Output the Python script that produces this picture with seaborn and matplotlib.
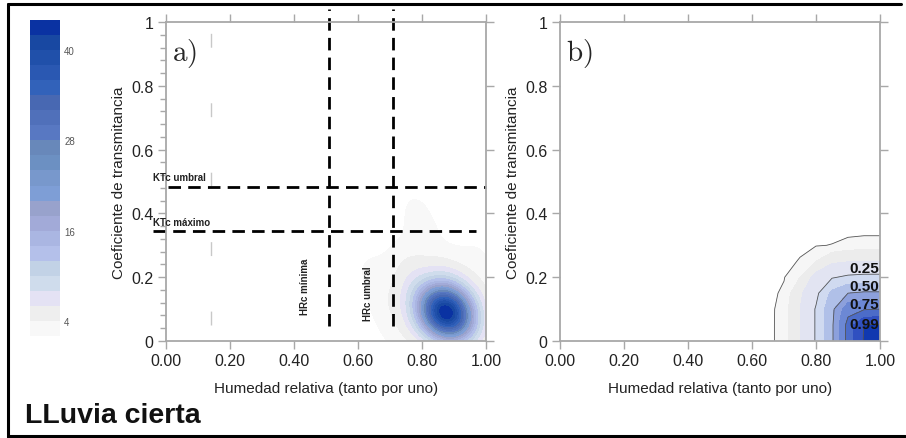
import numpy as np
import matplotlib
matplotlib.use("Agg")
import matplotlib.pyplot as plt
from matplotlib.colors import ListedColormap, BoundaryNorm
from matplotlib.lines import Line2D
import seaborn as sns

# colour bands of the density scale (bottom -> top)
band_colors = ["#f8f8f8", "#eeeeee", "#e4e2f4", "#cfdcec", "#c2d2e6", "#b4c0ea",
               "#aab6e2", "#a2aad8", "#98a2cc", "#7e9ed6", "#7898cc", "#6c90c2",
               "#6888ba", "#5878c2", "#5070ba", "#4868b2", "#3262ba", "#2a58b2",
               "#2050aa", "#1848a2", "#0a32a2"]
density_bounds = [2, 4, 6, 8, 10, 12, 14, 16, 18, 20, 22, 24, 26, 28, 30, 32,
                  34, 36, 38, 40, 42, 44]
density_ticks = [4, 16, 28, 40]

hr_obs = [0.875, 0.925, 0.825, 0.875, 0.875, 0.91, 0.84, 0.84, 0.91,
          0.78, 0.96, 0.79, 0.95, 0.875,
          0.77, 0.70, 0.65, 0.80, 0.78, 0.97, 0.72]
kt_obs = [0.09, 0.09, 0.09, 0.135, 0.045, 0.125, 0.055, 0.125, 0.055,
          0.15, 0.15, 0.035, 0.035, 0.21,
          0.23, 0.12, 0.22, 0.34, 0.43, 0.26, 0.03]
obs_weight = [10, 5, 5, 5, 5, 3, 3, 3, 3,
              1.5, 1.2, 1.0, 1.0, 1.2,
              1.2, 0.8, 0.4, 0.5, 0.3, 0.4, 0.4]

hr_thresholds = [0.51, 0.71]
hr_labels = ["HRc mínima", "HRc umbral"]
kt_thresholds = [0.482, 0.346]
kt_labels = ["KTc umbral", "KTc máximo"]

# panel b: probability surface (rows = KTc, columns = HR)
prob_hr = [0.60, 0.65, 0.70, 0.75, 0.80, 0.85, 0.90, 0.95, 1.00]
prob_kt = [0.00, 0.05, 0.10, 0.15, 0.20, 0.25, 0.30, 0.35, 0.40]
prob_grid = [
    [0, 0, 0.025, 0.120, 0.26, 0.48, 0.80, 1.000, 1.000],
    [0, 0, 0.025, 0.120, 0.26, 0.48, 0.80, 0.995, 1.000],
    [0, 0, 0.024, 0.120, 0.26, 0.47, 0.70, 0.740, 0.750],
    [0, 0, 0.016, 0.100, 0.22, 0.40, 0.50, 0.520, 0.520],
    [0, 0, 0.008, 0.050, 0.15, 0.24, 0.27, 0.280, 0.280],
    [0, 0, 0.002, 0.012, 0.05, 0.10, 0.115, 0.120, 0.120],
    [0, 0, 0.000, 0.004, 0.008, 0.011, 0.020, 0.025, 0.025],
    [0, 0, 0, 0, 0, 0, 0, 0, 0],
    [0, 0, 0, 0, 0, 0, 0, 0, 0],
]
prob_line_levels = [0.01, 0.25, 0.50, 0.75, 0.99]
prob_labels = ["0.25", "0.50", "0.75", "0.99"]
prob_fill_levels = [0.01, 0.05, 0.12, 0.25, 0.37, 0.50, 0.62, 0.75, 0.87, 0.99, 1.001]
prob_fill_colors = ["#f6f6f6", "#ececec", "#e2e4f2", "#d0daf0", "#b0c0e8",
                    "#8ca0dc", "#6c88d4", "#4c6cc8", "#3050c0", "#1038b0"]

x_ticks = [0.0, 0.2, 0.4, 0.6, 0.8, 1.0]
x_ticklabels = ["0.00", "0.20", "0.40", "0.60", "0.80", "1.00"]
y_ticks = [0.0, 0.2, 0.4, 0.6, 0.8, 1.0]
y_ticklabels = ["0", "0.2", "0.4", "0.6", "0.8", "1"]

sns.set_theme(style="white")
plt.rcParams["font.family"] = ["Liberation Sans", "DejaVu Sans"]
plt.rcParams["mathtext.fontset"] = "cm"

cmap = ListedColormap(band_colors)
spine_col = "#a8a8a8"

fig = plt.figure(figsize=(9.06, 4.39), dpi=100)
W, H = 906, 439


def px_axes(left, top, right, bottom):
    return fig.add_axes([left / W, 1 - bottom / H, (right - left) / W, (bottom - top) / H])


def style_axes(ax, minor):
    ax.set_xlim(0, 1)
    ax.set_ylim(0, 1)
    for s in ax.spines.values():
        s.set_color(spine_col)
        s.set_linewidth(1.3)
        s.set_visible(True)
    ax.set_xticks(x_ticks)
    ax.set_xticklabels(x_ticklabels)
    ax.set_yticks(y_ticks)
    ax.set_yticklabels(y_ticklabels)
    ax.tick_params(axis="both", which="major", direction="out", length=6, width=1,
                   color=spine_col, labelsize=11.5, labelcolor="#222222",
                   top=True, right=True, bottom=True, left=True, pad=3)
    if minor:
        ax.set_yticks(np.arange(0, 1.0001, 0.04), minor=True)
        ax.tick_params(axis="y", which="minor", direction="out", length=4, width=1,
                       color=spine_col, left=True, right=False)
    ax.set_xlabel("Humedad relativa (tanto por uno)", fontsize=11, color="#222222", labelpad=9)
    ax.set_ylabel("Coeficiente de transmitancia", fontsize=11, color="#222222", labelpad=4)
    ax.set_facecolor("white")


# ---------- panel a ----------
ax1 = px_axes(166, 23, 486, 342)
sns.kdeplot(x=hr_obs, y=kt_obs, weights=obs_weight, fill=True, cmap=cmap,
            levels=21, thresh=0.015, bw_method=0.85, clip=((0, 1), (0, 1)), ax=ax1)
style_axes(ax1, minor=True)

ax1.axvline(0.14, ymin=0.05, ymax=1.0, color="#c8c8c8", lw=1, dashes=(10, 40))
dash = (4.5, 2.6)
ax1.vlines(hr_thresholds, 0.047, 1.04, colors="black", lw=2, linestyles=[(0, dash)],
           clip_on=False)
ax1.hlines(kt_thresholds[0], 0.005, 1.0, colors="black", lw=2, linestyles=[(0, dash)],
           clip_on=False)
ax1.hlines(kt_thresholds[1], -0.04, 0.97, colors="black", lw=2, linestyles=[(0, dash)],
           clip_on=False)
ax1.text(-0.04, kt_thresholds[0] + 0.032, kt_labels[0], fontsize=7, fontweight="bold",
         va="center", ha="left", color="#222222")
ax1.text(-0.04, kt_thresholds[1] + 0.028, kt_labels[1], fontsize=7, fontweight="bold",
         va="center", ha="left", color="#222222")
ax1.text(hr_thresholds[0] - 0.076, 0.173, hr_labels[0], fontsize=7, fontweight="bold",
         rotation=90, va="center", ha="center", color="#222222")
ax1.text(hr_thresholds[1] - 0.078, 0.153, hr_labels[1], fontsize=7, fontweight="bold",
         rotation=90, va="center", ha="center", color="#222222")
ax1.text(0.018, 0.905, r"$\mathrm{a)}$", fontsize=21, va="center", ha="left")

# ---------- panel b ----------
ax2 = px_axes(560, 23, 880, 342)
ax2.contourf(prob_hr, prob_kt, prob_grid, levels=prob_fill_levels, colors=prob_fill_colors)
ax2.contour(prob_hr, prob_kt, prob_grid, levels=prob_line_levels, colors="#555555",
            linewidths=0.6)
style_axes(ax2, minor=False)
for lab, yy in zip(prob_labels, [0.23, 0.171, 0.116, 0.053]):
    ax2.text(0.998, yy, lab, fontsize=11, fontweight="bold", ha="right", va="center",
             color="#111111")
ax2.text(0.018, 0.905, r"$\mathrm{b)}$", fontsize=21, va="center", ha="left")

# ---------- colour bar ----------
cax = px_axes(30, 21, 60, 337)
norm = BoundaryNorm(density_bounds, cmap.N)
cb = fig.colorbar(plt.cm.ScalarMappable(norm=norm, cmap=cmap), cax=cax)
cb.set_ticks(density_ticks)
cb.ax.minorticks_off()
cb.outline.set_visible(False)
cb.ax.tick_params(which="both", length=0, labelsize=7, labelcolor="#555555", pad=3)

fig.text(25 / W, 1 - 423 / H, "LLuvia cierta", fontsize=20.5, fontweight="bold",
         va="baseline", ha="left", color="#111111")

# outer frame (no right edge)
for xs, ys in [([8, 8], [5, 438]), ([8, 901], [5, 5]), ([8, 905], [437, 437])]:
    fig.add_artist(Line2D([x / W for x in xs], [1 - y / H for y in ys],
                          transform=fig.transFigure, color="black", lw=2.2))

fig.savefig("out.png", dpi=100)
